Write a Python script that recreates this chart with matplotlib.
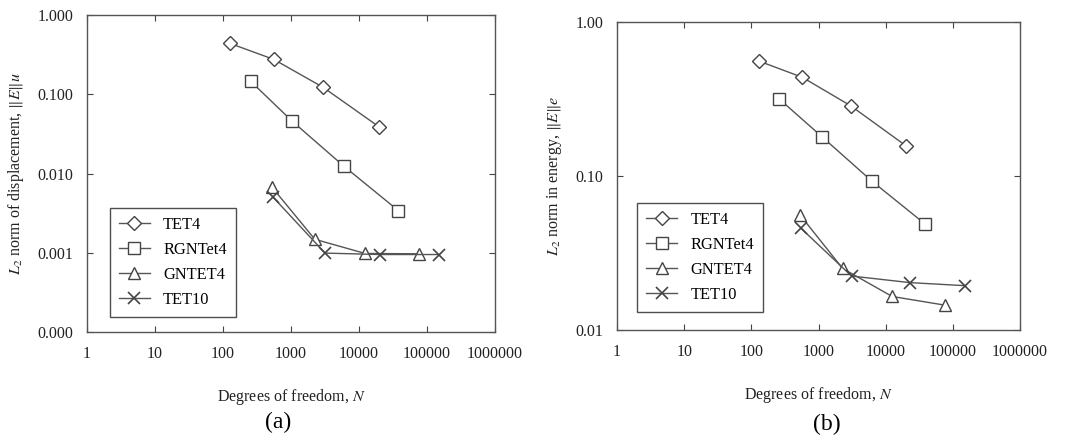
import matplotlib
matplotlib.use("Agg")
from matplotlib import pyplot as plt
from matplotlib.ticker import NullLocator

plt.rcParams['font.family'] = ['Liberation Serif', 'DejaVu Serif']
plt.rcParams['mathtext.fontset'] = 'stix'

# (a) displacement error
dof_tet4 = [126, 562, 2990, 19600]
disp_tet4 = [0.44, 0.275, 0.122, 0.039]
dof_rgn = [255, 1050, 6050, 38000]
disp_rgn = [0.146, 0.0455, 0.0123, 0.0034]
dof_gn = [520, 2240, 12300, 77000]
disp_gn = [0.0068, 0.00148, 0.00098, 0.00097]
dof_tet10 = [537, 3170, 20400, 152000]
disp_tet10 = [0.0051, 0.00099, 0.00095, 0.00095]

# (b) energy error
dof_tet4_b = [128, 573, 3030, 20000]
en_tet4 = [0.558, 0.437, 0.285, 0.157]
dof_rgn_b = [260, 1120, 6150, 38000]
en_rgn = [0.316, 0.18, 0.093, 0.049]
dof_gn_b = [530, 2280, 12500, 76000]
en_gn = [0.0558, 0.0251, 0.0165, 0.0145]
dof_tet10_b = [540, 3100, 23000, 151000]
en_tet10 = [0.046, 0.0224, 0.0203, 0.0194]

names = ["TET4", "RGNTet4", "GNTET4", "TET10"]
x_ticks = [1, 10, 100, 1000, 10000, 100000, 1000000]
x_labels = ["1", "10", "100", "1000", "10000", "100000", "1000000"]
ya_ticks = [1e-4, 1e-3, 1e-2, 1e-1, 1]
ya_labels = ["0.000", "0.001", "0.010", "0.100", "1.000"]
yb_ticks = [0.01, 0.1, 1]
yb_labels = ["0.01", "0.10", "1.00"]

txt = '#222222'
lc = '#555555'
styles = [dict(marker='D', ms=7), dict(marker='s', ms=9),
          dict(marker='^', ms=9), dict(marker='x', ms=9, mew=1.2)]

fig = plt.figure(figsize=(10.67, 4.42), dpi=100)
ax1 = fig.add_axes([0.0815, 0.2489, 0.3824, 0.717])
ax2 = fig.add_axes([0.5783, 0.2534, 0.3777, 0.697])

def panel(ax, data, yt, yl, ylab, lim, anchor):
    for (x, y), name, st in zip(data, names, styles):
        st = dict(st)
        ax.plot(x, y, color=lc, lw=1.0, mfc='white', mec='#444444',
                mew=st.pop('mew', 1.0), label=name, **st)
    ax.set_xscale('log')
    ax.set_yscale('log')
    ax.set_xlim(1, 1e6)
    ax.set_ylim(*lim)
    ax.set_xticks(x_ticks, x_labels)
    ax.set_yticks(yt, yl)
    ax.xaxis.set_minor_locator(NullLocator())
    ax.yaxis.set_minor_locator(NullLocator())
    ax.tick_params(direction='in', length=4, top=True, right=True,
                   labelsize=11.5, colors='#444444', labelcolor=txt, pad=10)
    for s in ax.spines.values():
        s.set_color('#555555')
        s.set_linewidth(1.0)
    ax.set_xlabel(r"Degrees of freedom, $N$", fontsize=11.5, color=txt, labelpad=18)
    ax.set_ylabel(ylab, fontsize=11.5, color=txt, labelpad=8)
    leg = ax.legend(loc='lower left', bbox_to_anchor=anchor, fontsize=11.8,
                    frameon=True, fancybox=False, edgecolor='#222222',
                    handlelength=1.9, handletextpad=0.8, borderpad=0.55,
                    labelspacing=0.55, borderaxespad=0)
    leg.get_frame().set_linewidth(1.0)

panel(ax1, [(dof_tet4, disp_tet4), (dof_rgn, disp_rgn), (dof_gn, disp_gn), (dof_tet10, disp_tet10)],
      ya_ticks, ya_labels, r"$L_2$ norm of displacement, $\Vert E\Vert u$", (1e-4, 1), (0.056, 0.047))
panel(ax2, [(dof_tet4_b, en_tet4), (dof_rgn_b, en_rgn), (dof_gn_b, en_gn), (dof_tet10_b, en_tet10)],
      yb_ticks, yb_labels, r"$L_2$ norm in energy, $\Vert E\Vert e$", (0.01, 1), (0.05, 0.058))

fig.text(278 / 1067, 1 - 422 / 442, "(a)", ha='center', va='center', fontsize=17, color='black')
fig.text(827 / 1067, 1 - 424 / 442, "(b)", ha='center', va='center', fontsize=17, color='black')

fig.savefig("out.png", dpi=100)
